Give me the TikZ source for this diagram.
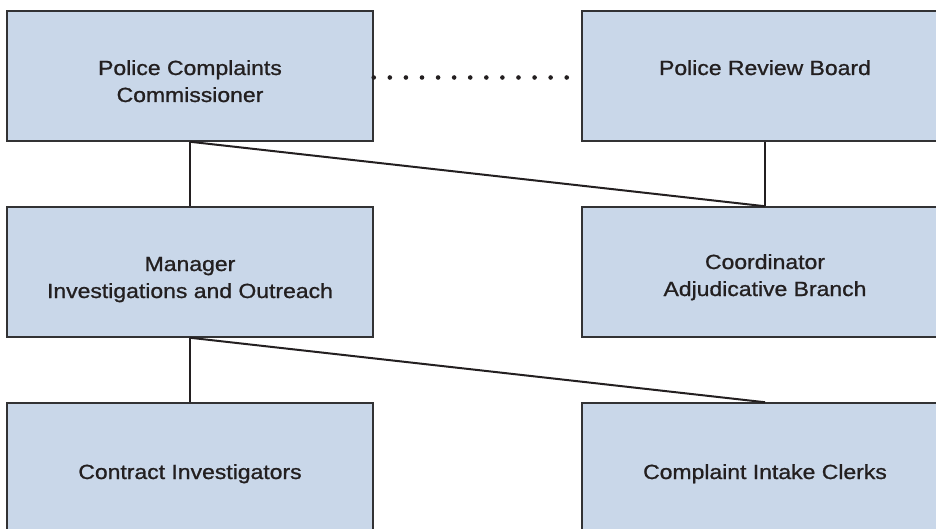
\documentclass[tikz,border=0pt]{standalone}
\usepackage{fontspec}
\setmainfont{Liberation Sans}
\newfontfamily\medfont{Liberation Sans}[FakeBold=1.0,FakeStretch=1.12]
\definecolor{boxfill}{RGB}{201,215,233}
\definecolor{boxline}{RGB}{50,50,52}
\definecolor{ink}{RGB}{35,31,32}
\begin{document}
\begin{tikzpicture}[x=1pt,y=-1pt,
  orgbox/.style={draw=boxline,fill=boxfill,line width=1.5pt,minimum width=366pt,minimum height=130pt,inner sep=0pt},
  orgtext/.style={text=ink,font=\medfont\fontsize{20.5}{27}\selectfont,align=center,inner sep=0pt,anchor=base},
  link/.style={draw=ink,line width=2pt},
  dots/.style={draw=ink,line width=4.6pt,line cap=round,dash pattern=on 0pt off 16.08pt}]
\useasboundingbox (0,0) rectangle (936,529);
\clip (0,0) rectangle (936,529);
% boxes
\node[orgbox] (pcc) at (190,76) {};
\node[orgbox] (prb) at (765,76) {};
\node[orgbox] (mgr) at (190,272) {};
\node[orgbox] (crd) at (765,272) {};
\node[orgbox] (ci) at (190,468) {};
\node[orgbox] (cic) at (765,468) {};
% texts (base = last line)
\node[orgtext] (pcct) at (190,102) {Police Complaints\\Commissioner};
\node[orgtext] (prbt) at (765,75) {Police Review Board};
\node[orgtext] (mgrt) at (190,298) {Manager\\Investigations and Outreach};
\node[orgtext] (crdt) at (765,296) {Coordinator\\Adjudicative Branch};
\node[orgtext] (cit) at (190,479) {Contract Investigators};
\node[orgtext] (cict) at (765,479) {Complaint Intake Clerks};
% connectors
\draw[link] (pcc.south) -- (mgr.north);
\draw[link] (pcc.south) -- (crd.north);
\draw[link] (prb.south) -- (crd.north);
\draw[link] (mgr.south) -- (ci.north);
\draw[link] (mgr.south) -- (cic.north);
\draw[dots] ([yshift=-1.5pt]pcc.east) -- ([yshift=-1.5pt]prb.west);
\end{tikzpicture}
\end{document}
